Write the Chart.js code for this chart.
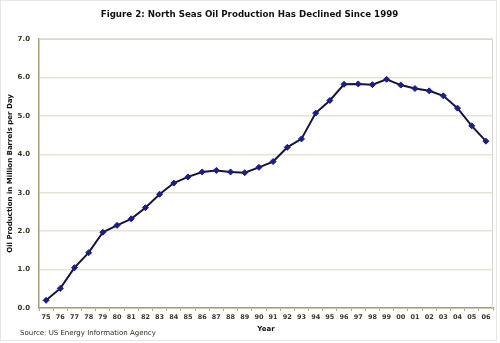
<!DOCTYPE html>
<html>
<head>
<meta charset="utf-8">
<script src="https://cdn.jsdelivr.net/npm/chart.js@4"></script>
<style>
  body { margin: 0; background: #fff; }
  canvas { display: block; }
</style>
</head>
<body>
<canvas id="oilChart" width="500" height="343"></canvas>
<script>
// North Sea oil production, million barrels per day
const years = ["75", "76", "77", "78", "79", "80", "81", "82", "83", "84", "85",
  "86", "87", "88", "89", "90", "91", "92", "93", "94", "95", "96", "97", "98",
  "99", "00", "01", "02", "03", "04", "05", "06"];
const production = [0.20, 0.51, 1.05, 1.44, 1.97, 2.15, 2.32, 2.61, 2.96, 3.25,
  3.41, 3.54, 3.58, 3.54, 3.52, 3.66, 3.81, 4.18, 4.40, 5.07, 5.40, 5.82, 5.83,
  5.81, 5.95, 5.80, 5.71, 5.65, 5.52, 5.20, 4.74, 4.34];
const yTicks = [0, 1, 2, 3, 4, 5, 6, 7];

const font = "'DejaVu Sans', Verdana, sans-serif";
const tickColor = "#3b3826";

// light frame around the plot area, outer border and the source note
const framePlugin = {
  id: "frame",
  beforeDatasetsDraw(chart) {
    const { ctx, chartArea: a } = chart;
    ctx.save();
    ctx.strokeStyle = "#d8d6cc";
    ctx.lineWidth = 1;
    ctx.beginPath();
    ctx.moveTo(a.left, a.top + 0.5);
    ctx.lineTo(a.right - 0.5, a.top + 0.5);
    ctx.lineTo(a.right - 0.5, a.bottom);
    ctx.stroke();
    ctx.restore();
  },
  afterDraw(chart) {
    const ctx = chart.ctx;
    ctx.save();
    ctx.strokeStyle = "#e6e6e2";
    ctx.lineWidth = 1;
    ctx.strokeRect(0.5, 0.5, 496, 340);
    ctx.fillStyle = "#2e2c20";
    ctx.font = "7px " + font;
    ctx.textBaseline = "middle";
    ctx.fillText("Source: US Energy Information Agency", 20, 333);
    ctx.restore();
  }
};

new Chart(document.getElementById("oilChart"), {
  type: "line",
  data: {
    labels: years,
    datasets: [{
      data: production,
      borderColor: "#14143c",
      borderWidth: 2,
      pointStyle: "rectRot",
      pointRadius: 3,
      pointBackgroundColor: "#1c1c8a",
      pointBorderColor: "#1c1c8a",
      pointBorderWidth: 1,
      tension: 0
    }]
  },
  options: {
    responsive: false,
    animation: false,
    layout: { padding: { left: 6, right: 7, top: 0, bottom: 10 } },
    plugins: {
      legend: { display: false },
      tooltip: { enabled: false },
      title: {
        display: true,
        text: "Figure 2: North Seas Oil Production Has Declined Since 1999",
        color: "#111",
        font: { family: font, size: 8.7, weight: "bold" },
        padding: { top: 10, bottom: 18.5 }
      }
    },
    scales: {
      x: {
        offset: true,
        afterFit: (s) => { s.height = 25; },
        grid: {
          offset: true,
          drawOnChartArea: false,
          tickLength: 3,
          color: "#b0a888"
        },
        border: { color: "#a59d7c", width: 1.5 },
        ticks: {
          color: tickColor,
          font: { family: font, size: 6.5, weight: "bold" },
          maxRotation: 0,
          autoSkip: false,
          padding: 2
        },
        title: {
          display: true,
          text: "Year",
          color: "#111",
          font: { family: font, size: 7, weight: "bold" },
          padding: { top: 0, bottom: 0 }
        }
      },
      y: {
        min: 0,
        max: 7,
        afterFit: (s) => { s.width = 33; },
        afterBuildTicks: (s) => { s.ticks = yTicks.map(v => ({ value: v })); },
        grid: { color: "#e6e3d6", lineWidth: 1.5, drawTicks: false },
        border: { color: "#a59d7c", width: 1.5 },
        ticks: {
          color: tickColor,
          font: { family: font, size: 7, weight: "bold" },
          padding: 9,
          callback: (v) => v.toFixed(1)
        },
        title: {
          display: true,
          text: "Oil Production in Million Barrels per Day",
          color: "#111",
          font: { family: font, size: 7, weight: "bold" },
          padding: { top: 0, bottom: 0 }
        }
      }
    }
  },
  plugins: [framePlugin]
});
</script>
</body>
</html>
